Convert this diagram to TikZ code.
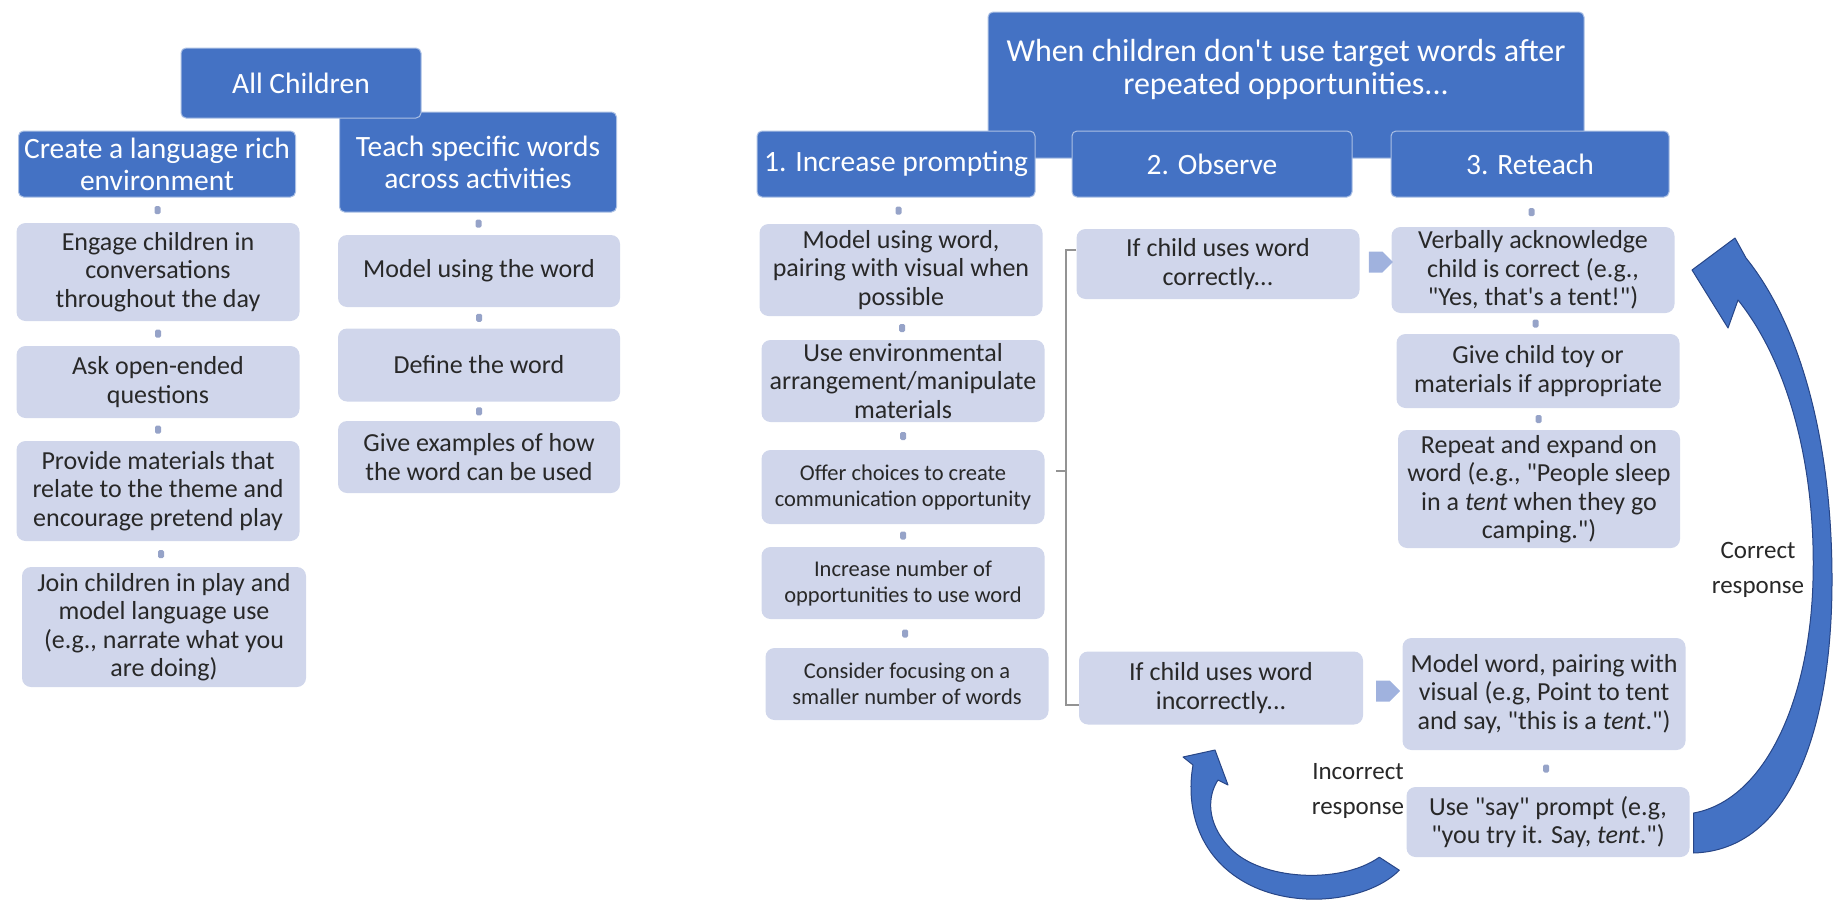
\documentclass[tikz,border=0pt]{standalone}
\usepackage{fontspec}
\setmainfont{Carlito}[Ligatures=TeXOff]
\usetikzlibrary{positioning,shapes.symbols}
\definecolor{hdrblue}{RGB}{68,114,196}
\definecolor{paleblue}{RGB}{208,214,235}
\definecolor{dotgray}{RGB}{150,163,200}
\definecolor{chevblue}{RGB}{160,178,222}
\definecolor{arrowedge}{RGB}{40,70,135}
\definecolor{txtgray}{RGB}{40,40,40}

\begin{document}
\begin{tikzpicture}[x=1pt,y=-1pt,
  hdr/.style={rectangle,rounded corners=5pt,fill=hdrblue,draw=white!55!hdrblue,line width=1pt,
    text=white,align=center,inner sep=0pt,font=\fontsize{29.5}{32}\selectfont},
  item/.style={rectangle,rounded corners=9pt,fill=paleblue,text=txtgray,align=center,
    inner sep=0pt,font=\fontsize{26}{28.5}\selectfont},
  small/.style={font=\fontsize{22.5}{26}\selectfont},
  linkdot/.style={rectangle,rounded corners=1.5pt,fill=dotgray,minimum width=6pt,minimum height=8pt,inner sep=0pt},
  chev/.style={signal,signal to=east,fill=chevblue,minimum width=24pt,minimum height=21pt,inner sep=0pt},
  bracket/.style={draw=gray!85,line width=1.3pt},
  swoosh/.style={fill=hdrblue,draw=arrowedge,line width=1pt,line join=round},
  note/.style={text=txtgray,align=center,inner sep=0pt,font=\fontsize{25}{35}\selectfont}]
\useasboundingbox (0,0) rectangle (1833,905);
\clip (0,0) rectangle (1833,905);

\node[hdr,minimum width=277pt,minimum height=66pt] (create) at (157,164) {Create a language rich\\environment};
\node[hdr,minimum width=277pt,minimum height=100pt] (teach) at (478,162) {Teach specific words\\across activities};
\node[hdr,minimum width=240pt,minimum height=70pt] (allch) at (301,83) {All Children};

\node[item,minimum width=283pt,minimum height=98pt] (engage) at (158,272) {Engage children in\\conversations\\throughout the day};
\node[item,minimum width=283pt,minimum height=72pt] (ask) at (158,382) {Ask open-ended\\questions};
\node[item,minimum width=283pt,minimum height=100pt] (provide) at (158,491) {Provide materials that\\relate to the theme and\\encourage pretend play};
\node[item,minimum width=284pt,minimum height=120pt] (join) at (164,627) {Join children in play and\\model language use\\(e.g., narrate what you\\are doing)};
\node[item,minimum width=282pt,minimum height=72pt] (model) at (479,271) {Model using the word};
\node[item,minimum width=282pt,minimum height=73pt] (define) at (479,365) {Define the word};
\node[item,minimum width=282pt,minimum height=72pt] (examples) at (479,457) {Give examples of how\\the word can be used};

\path (create.south) -- (engage.north) node[midway,linkdot] (dl1) {};
\path (engage.south) -- (ask.north) node[midway,linkdot] (dl2) {};
\path (ask.south) -- (provide.north) node[midway,linkdot] (dl3) {};
\path (provide.south) -- (join.north) node[midway,linkdot] (dl4) {};
\path (teach.south) -- (model.north) node[midway,linkdot] (dr1) {};
\path (model.south) -- (define.north) node[midway,linkdot] (dr2) {};
\path (define.south) -- (examples.north) node[midway,linkdot] (dr3) {};

\node[hdr,minimum width=596pt,minimum height=146pt] (topbox) at (1286,85) {};
\node[text=white,align=center,inner sep=0pt,font=\fontsize{32}{33}\selectfont] (toptext) at (1286,69) {When children don't use target words after\\repeated opportunities...};
\node[hdr,minimum width=278pt,minimum height=66pt] (prompt) at (896,164) {1. Increase prompting};
\node[hdr,minimum width=280pt,minimum height=66pt] (observe) at (1212,164) {2. Observe};
\node[hdr,minimum width=278pt,minimum height=66pt] (reteach) at (1530,164) {3. Reteach};

\node[item,minimum width=283pt,minimum height=92pt] (p1) at (901,270) {Model using word,\\pairing with visual when\\possible};
\node[item,minimum width=283pt,minimum height=82pt] (p2) at (903,381) {Use environmental\\arrangement/manipulate\\materials};
\node[item,small,minimum width=283pt,minimum height=74pt] (p3) at (903,487) {Offer choices to create\\communication opportunity};
\node[item,small,minimum width=283pt,minimum height=72pt] (p4) at (903,583) {Increase number of\\opportunities to use word};
\node[item,small,minimum width=283pt,minimum height=72pt] (p5) at (907,684) {Consider focusing on a\\smaller number of words};

\path (prompt.south) -- (p1.north) node[midway,linkdot] (dp1) {};
\path (p1.south) -- (p2.north) node[midway,linkdot] (dp2) {};
\path (p2.south) -- (p3.north) node[midway,linkdot] (dp3) {};
\path (p3.south) -- (p4.north) node[midway,linkdot] (dp4) {};
\path (p4.south) -- (p5.north) node[midway,linkdot] (dp5) {};

\node[item,minimum width=283pt,minimum height=70pt] (obsC) at (1218,264) {If child uses word\\correctly...};
\node[item,minimum width=284pt,minimum height=73pt] (obsI) at (1221,688) {If child uses word\\incorrectly...};

\coordinate (brk) at (1056,471);
\draw[bracket] (brk) -- ++(10,0) coordinate (brkm);
\draw[bracket] ([yshift=14pt]obsC.west) -| (brkm) |- ([yshift=-17pt]obsI.west);

\node[item,minimum width=283pt,minimum height=86pt] (verb) at (1533,270) {Verbally acknowledge\\child is correct (e.g.,\\"Yes, that's a tent!")};
\node[item,minimum width=283pt,minimum height=74pt] (give) at (1538,371) {Give child toy or\\materials if appropriate};
\node[item,minimum width=282pt,minimum height=118pt] (repeat) at (1539,489) {Repeat and expand on\\word (e.g., "People sleep\\in a \textit{tent} when they go\\camping.")};
\node[item,minimum width=283pt,minimum height=112pt] (modw) at (1544,694) {Model word, pairing with\\visual (e.g, Point to tent\\and say, "this is a \textit{tent}.")};
\node[item,minimum width=283pt,minimum height=70pt] (say) at (1548,822) {Use "say" prompt (e.g,\\"you try it. Say, \textit{tent}.")};

\path (reteach.south) -- (verb.north) node[midway,linkdot] (dt1) {};
\path (verb.south) -- (give.north) node[midway,linkdot] (dt2) {};
\path (give.south) -- (repeat.north) node[midway,linkdot] (dt3) {};
\path (modw.south) -- (say.north) node[midway,linkdot] (dt4) {};

\path (obsC.east) -- (verb.west) node[midway,chev,yshift=5pt] (chc) {};
\path (obsI.east) -- (modw.west) node[midway,chev] (chi) {};

\draw[swoosh] ([shift={(4,-9)}]say.east) .. controls (1765,800) and (1810,700) .. (1813,580)
  .. controls (1816,470) and (1790,365) .. (1738,300) -- (1728,328) -- (1692,270) -- (1735,238) -- (1746,258)
  .. controls (1800,325) and (1832,440) .. (1832,580)
  .. controls (1832,730) and (1790,850) .. ([shift={(4,31)}]say.east) -- cycle;

\draw[swoosh] ([shift={(-27,0)}]say.south west) .. controls (1340,885) and (1260,880) .. (1230,848)
  .. controls (1205,822) and (1208,795) .. (1218,780) -- (1228,785) -- (1215,750) -- (1183,757) -- (1193,765)
  .. controls (1185,810) and (1200,860) .. (1250,885)
  .. controls (1300,910) and (1370,900) .. ([shift={(-7,13)}]say.south west) -- cycle;

\node[note] (corr) at (1758,570) {Correct\\response};
\node[note] (incorr) at (1358,791) {Incorrect\\response};
\end{tikzpicture}
\end{document}
